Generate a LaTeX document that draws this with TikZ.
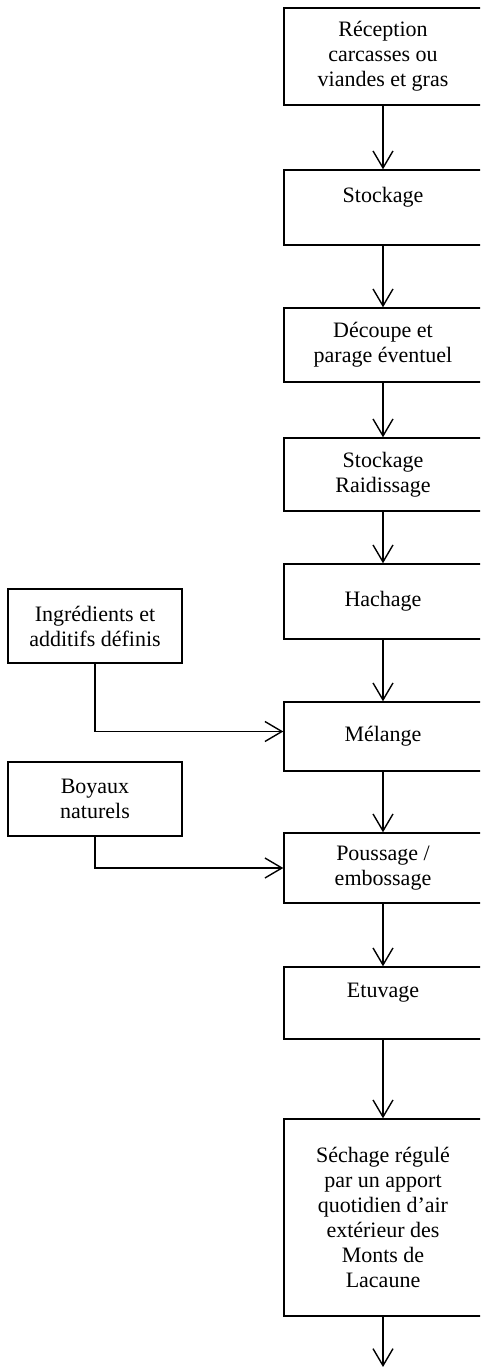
\documentclass[tikz,border=0pt]{standalone}
\usepackage{fontspec}
\setmainfont{Liberation Serif}
\usetikzlibrary{arrows.meta}
\def\Mx{383}
\def\Lx{95}

\tikzset{
  etape/.style={draw, line width=1.4pt, minimum width=198pt, align=center, inner sep=0pt},
  apport/.style={draw, line width=1.4pt, minimum width=174pt, minimum height=74pt, align=center, inner sep=0pt},
  fleche/.style={line width=1.4pt, -{Straight Barb[length=17pt,width=20pt]}}
}

\begin{document}
\begin{tikzpicture}[x=1pt, y=-1pt, font=\fontsize{22}{25}\selectfont]
\useasboundingbox (0,0) rectangle (480,1367);
\clip (0,0) rectangle (480,1367);

\node[etape, minimum height=97pt] (reception) at (\Mx, 56.5) {Réception\\carcasses ou\\viandes et gras};
\node[etape, minimum height=75pt] (stockage) at (\Mx, 207.5) {Stockage\\\mbox{}};
\node[etape, minimum height=74pt] (decoupe) at (\Mx, 345) {Découpe et\\parage éventuel};
\node[etape, minimum height=73pt] (raidissage) at (\Mx, 474.5) {Stockage\\Raidissage};
\node[etape, minimum height=75pt] (hachage) at (\Mx, 601.5) {Hachage};
\node[etape, minimum height=69pt] (melange) at (\Mx, 736.5) {Mélange};
\node[etape, minimum height=70pt] (poussage) at (\Mx, 868) {Poussage /\\embossage};
\node[etape, minimum height=72pt] (etuvage) at (\Mx, 1003) {Etuvage\\\mbox{}};
\node[etape, minimum height=197pt] (sechage) at (\Mx, 1217.5) {Séchage régulé\\par un apport\\quotidien d’air\\extérieur des\\Monts de\\Lacaune};
\coordinate (fin) at (\Mx, 1367);

\node[apport] (ingredients) at (\Lx, 626) {Ingrédients et\\additifs définis};
\node[apport] (boyaux) at (\Lx, 799) {Boyaux\\naturels};

\foreach \a/\b in {reception/stockage, stockage/decoupe, decoupe/raidissage, raidissage/hachage, hachage/melange, melange/poussage, poussage/etuvage, etuvage/sechage, sechage/fin}
  \draw[fleche] (\a) -- (\b);

\draw[fleche] (ingredients.south) |- ([yshift=5pt]melange.west);
\draw[fleche] (boyaux.south) |- (poussage.west);
\end{tikzpicture}
\end{document}
